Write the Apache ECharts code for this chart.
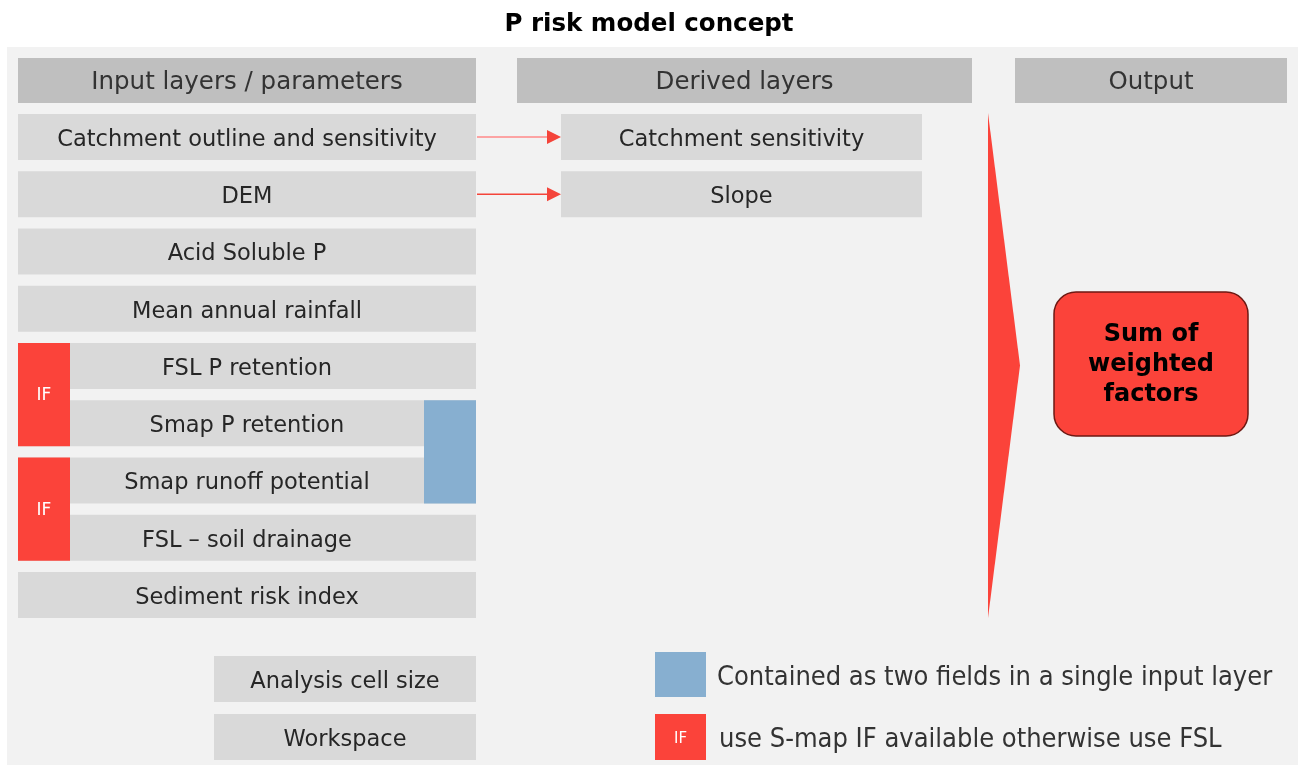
<!DOCTYPE html>
<html>
<head>
<meta charset="utf-8">
<script src="https://cdn.jsdelivr.net/npm/echarts@6/dist/echarts.min.js"></script>
<style>html,body{margin:0;padding:0;background:#fff}#c{width:1298px;height:765px}</style>
</head>
<body>
<div id="c"></div>
<script>
// ---- content ----
const titleText = 'P risk model concept';
const headers = ['Input layers / parameters', 'Derived layers', 'Output'];
const inputLayers = ['Catchment outline and sensitivity', 'DEM', 'Acid Soluble P', 'Mean annual rainfall',
  'FSL P retention', 'Smap P retention', 'Smap runoff potential', 'FSL \u2013 soil drainage', 'Sediment risk index'];
const derivedLayers = ['Catchment sensitivity', 'Slope'];
const derivedFrom = [0, 1];           // input row feeding each derived layer
const ifGroups = [[4, 5], [6, 7]];    // input rows grouped by an IF choice
const twoFieldGroup = [5, 6];         // rows contained in a single input layer
const settings = ['Analysis cell size', 'Workspace'];
const outputText = 'Sum of\nweighted\nfactors';
const legendItems = ['Contained as two fields in a single input layer', 'use S-map IF available otherwise use FSL'];

// ---- layout (pixel space of the hidden axes) ----
const L = {
  panel: [7, 47, 1298, 765],
  headerY: [58, 103],
  headerX: [[18, 476], [517, 972], [1015, 1287]],
  inputX: [18, 476], derivedX: [561, 922],
  rowTop0: 114, rowPitch: 57.25, rowH: 46,
  ifW: 52, blueX: [424, 476],
  tri: [988, 113, 1020, 618],
  out: [1054, 292, 1248, 436],
  settingsX: [214, 476], settingsY: [656, 714],
  legendX: 655, legendY: [652, 714], legendBox: 51
};
const rowTop = i => L.rowTop0 + i * L.rowPitch;

const FONT = 'DejaVu Sans';
const GREY_H = '#bfbfbf', GREY = '#d9d9d9', RED = '#fb433a', BLUE = '#87afd0', TXT = '#262626';

function rectEl(api, x1, y1, x2, y2, fill) {
  const p1 = api.coord([x1, y1]), p2 = api.coord([x2, y2]);
  return { type: 'rect', shape: { x: p1[0], y: p1[1], width: p2[0] - p1[0], height: p2[1] - p1[1] }, style: { fill: fill } };
}
function textEl(api, x, y, text, size, color, weight, align, family) {
  const p = api.coord([x, y]);
  return {
    type: 'text', x: p[0], y: p[1],
    style: { text: text, fontSize: size, fill: color, fontWeight: weight || 'normal',
      fontFamily: family || FONT, align: align || 'center', verticalAlign: 'middle', lineHeight: 30 }
  };
}

const series = [];

// background panel
series.push({ type: 'custom', data: [[0]], silent: true, renderItem: (p, api) =>
  rectEl(api, L.panel[0], L.panel[1], L.panel[2], L.panel[3], '#f2f2f2') });

// headers
series.push({ type: 'custom', data: headers.map((h, i) => [i, h]), renderItem: (p, api) => {
  const i = p.dataIndex, xr = L.headerX[i];
  return { type: 'group', children: [
    rectEl(api, xr[0], L.headerY[0], xr[1], L.headerY[1], GREY_H),
    textEl(api, (xr[0] + xr[1]) / 2, (L.headerY[0] + L.headerY[1]) / 2 + 2, headers[i], 24.5, '#333')
  ]};
}});

// input layers
series.push({ type: 'custom', data: inputLayers.map((n, i) => [i, n]), renderItem: (p, api) => {
  const i = p.dataIndex, y = rowTop(i);
  return { type: 'group', children: [
    rectEl(api, L.inputX[0], y, L.inputX[1], y + L.rowH, GREY),
    textEl(api, (L.inputX[0] + L.inputX[1]) / 2, y + L.rowH / 2 + 3, inputLayers[i], 22.5, TXT)
  ]};
}});

// two-field (blue) marker
series.push({ type: 'custom', data: [twoFieldGroup], renderItem: (p, api) => {
  const y1 = rowTop(twoFieldGroup[0]), y2 = rowTop(twoFieldGroup[1]) + L.rowH;
  return rectEl(api, L.blueX[0], y1, L.blueX[1], y2, BLUE);
}});

// IF markers
series.push({ type: 'custom', data: ifGroups.map((g, i) => [i]), renderItem: (p, api) => {
  const g = ifGroups[p.dataIndex], y1 = rowTop(g[0]), y2 = rowTop(g[1]) + L.rowH;
  return { type: 'group', children: [
    rectEl(api, L.inputX[0], y1, L.inputX[0] + L.ifW, y2, RED),
    textEl(api, L.inputX[0] + L.ifW / 2, (y1 + y2) / 2 + 1, 'IF', 17, '#fff')
  ]};
}});

// derived layers + arrows
series.push({ type: 'custom', data: derivedLayers.map((n, i) => [i, n]), renderItem: (p, api) => {
  const i = p.dataIndex, y = rowTop(derivedFrom[i]), cy = y + L.rowH / 2;
  const a1 = api.coord([L.inputX[1] + 1, cy]), a2 = api.coord([L.derivedX[0], cy]);
  return { type: 'group', children: [
    rectEl(api, L.derivedX[0], y, L.derivedX[1], y + L.rowH, GREY),
    textEl(api, (L.derivedX[0] + L.derivedX[1]) / 2, cy + 3, derivedLayers[i], 22.5, TXT),
    { type: 'line', shape: { x1: a1[0], y1: a1[1], x2: a2[0] - 12, y2: a2[1] },
      style: { stroke: i === 0 ? '#f88' : '#f4443a', lineWidth: 1.5 } },
    { type: 'polygon', shape: { points: [[a2[0] - 14, a2[1] - 7], [a2[0], a2[1]], [a2[0] - 14, a2[1] + 7]] },
      style: { fill: '#f4443a' } }
  ]};
}});

// big triangle
series.push({ type: 'custom', data: [[0]], renderItem: (p, api) => {
  const t = L.tri, a = api.coord([t[0], t[1]]), b = api.coord([t[2], (t[1] + t[3]) / 2]), c = api.coord([t[0], t[3]]);
  return { type: 'polygon', shape: { points: [a, b, c] }, style: { fill: RED } };
}});

// output box
series.push({ type: 'custom', data: [[0, outputText]], renderItem: (p, api) => {
  const o = L.out, p1 = api.coord([o[0], o[1]]), p2 = api.coord([o[2], o[3]]);
  return { type: 'group', children: [
    { type: 'rect', shape: { x: p1[0], y: p1[1], width: p2[0] - p1[0], height: p2[1] - p1[1], r: 22 },
      style: { fill: RED, stroke: '#6e1913', lineWidth: 1.5 } },
    textEl(api, (o[0] + o[2]) / 2, (o[1] + o[3]) / 2 + 1, outputText, 24, '#000', 'bold')
  ]};
}});

// settings boxes
series.push({ type: 'custom', data: settings.map((s, i) => [i, s]), renderItem: (p, api) => {
  const i = p.dataIndex, y = L.settingsY[i];
  return { type: 'group', children: [
    rectEl(api, L.settingsX[0], y, L.settingsX[1], y + L.rowH, GREY),
    textEl(api, (L.settingsX[0] + L.settingsX[1]) / 2, y + L.rowH / 2 + 3, settings[i], 22.5, TXT)
  ]};
}});

// legend
series.push({ type: 'custom', data: legendItems.map((s, i) => [i, s]), renderItem: (p, api) => {
  const i = p.dataIndex, y = L.legendY[i], x = L.legendX, s = L.legendBox;
  const kids = [
    rectEl(api, x, y, x + s, y + (i === 0 ? 45 : 46), i === 0 ? BLUE : RED),
    textEl(api, x + s + 11 + (i === 1 ? 2 : 0), y + 26, legendItems[i], 27, '#333', 'normal', 'left',
      "'DejaVu Sans Condensed', 'Roboto Condensed', Roboto, sans-serif")
  ];
  if (i === 1) kids.push(textEl(api, x + s / 2, y + 25, 'IF', 15, '#fff'));
  return { type: 'group', children: kids };
}});

const chart = echarts.init(document.getElementById('c'), null, { renderer: 'canvas' });
chart.setOption({
  animation: false,
  backgroundColor: '#fff',
  title: { text: titleText, left: 'center', top: 7,
    textStyle: { fontFamily: FONT, fontWeight: 'bold', fontSize: 24.5, color: '#000' } },
  grid: { left: 0, right: 0, top: 0, bottom: 0 },
  xAxis: { type: 'value', min: 0, max: 1298, show: false },
  yAxis: { type: 'value', min: 0, max: 765, inverse: true, show: false },
  series: series
});
</script>
</body>
</html>
